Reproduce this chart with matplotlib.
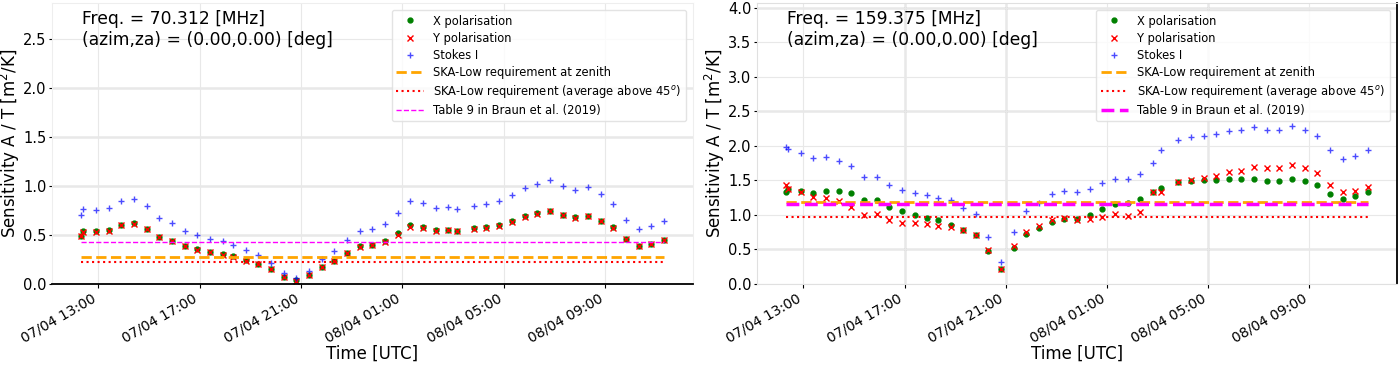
import numpy as np
import pandas as pd
import matplotlib
matplotlib.use('Agg')
import matplotlib.pyplot as plt
import matplotlib.dates as mdates
from matplotlib.ticker import MultipleLocator, FormatStrFormatter

# observation times (UTC), 7-8 April
times = ["07/04 12:19", "07/04 12:24", "07/04 12:54", "07/04 13:24", "07/04 13:54",
         "07/04 14:24", "07/04 14:54", "07/04 15:24", "07/04 15:54", "07/04 16:24",
         "07/04 16:54", "07/04 17:24", "07/04 17:54", "07/04 18:19", "07/04 18:49",
         "07/04 19:19", "07/04 19:49", "07/04 20:19", "07/04 20:49", "07/04 21:19",
         "07/04 21:49", "07/04 22:19", "07/04 22:49", "07/04 23:19", "07/04 23:49",
         "08/04 00:19", "08/04 00:49", "08/04 01:19", "08/04 01:49", "08/04 02:19",
         "08/04 02:49", "08/04 03:09", "08/04 03:49", "08/04 04:19", "08/04 04:49",
         "08/04 05:19", "08/04 05:49", "08/04 06:19", "08/04 06:49", "08/04 07:19",
         "08/04 07:49", "08/04 08:19", "08/04 08:49", "08/04 09:19", "08/04 09:49",
         "08/04 10:19", "08/04 10:49", "08/04 11:19"]

# 70.312 MHz
x_70 = [0.49, 0.54, 0.54, 0.55, 0.60, 0.62, 0.565, 0.48, 0.44, 0.39,
        0.355, 0.33, 0.305, 0.285, 0.245, 0.205, 0.157, 0.075, 0.037, 0.095,
        0.177, 0.238, 0.32, 0.384, 0.40, 0.438, 0.517, 0.602, 0.585, 0.551,
        0.551, 0.544, 0.568, 0.578, 0.599, 0.639, 0.694, 0.721, 0.748, 0.707,
        0.68, 0.697, 0.646, 0.578, 0.463, 0.391, 0.412, 0.449]
y_70 = [0.49, 0.535, 0.535, 0.545, 0.60, 0.615, 0.56, 0.475, 0.44, 0.385,
        0.35, 0.325, 0.30, 0.28, 0.24, 0.20, 0.152, 0.07, 0.035, 0.09,
        0.172, 0.232, 0.315, 0.38, 0.395, 0.425, 0.50, 0.585, 0.568, 0.545,
        0.548, 0.54, 0.562, 0.575, 0.595, 0.632, 0.688, 0.715, 0.742, 0.70,
        0.676, 0.692, 0.642, 0.575, 0.46, 0.385, 0.408, 0.445]
i_70 = [0.70, 0.765, 0.758, 0.776, 0.85, 0.871, 0.796, 0.677, 0.626, 0.544,
        0.497, 0.459, 0.435, 0.395, 0.35, 0.292, 0.214, 0.109, 0.058, 0.136,
        0.252, 0.333, 0.452, 0.541, 0.561, 0.609, 0.721, 0.844, 0.827, 0.776,
        0.782, 0.765, 0.799, 0.816, 0.847, 0.908, 0.976, 1.017, 1.061, 0.997,
        0.956, 0.986, 0.915, 0.816, 0.653, 0.558, 0.588, 0.639]
req_zenith_70 = 0.28
req_avg45_70 = 0.22
braun_70 = 0.43

# 159.375 MHz
x_159 = [1.337, 1.37, 1.346, 1.316, 1.346, 1.346, 1.316, 1.214, 1.214, 1.118,
         1.054, 0.996, 0.962, 0.923, 0.85, 0.777, 0.704, 0.477, 0.219, 0.525,
         0.724, 0.807, 0.899, 0.948, 0.943, 0.996, 1.083, 1.152, 1.176, 1.224,
         1.336, 1.395, 1.477, 1.491, 1.501, 1.506, 1.52, 1.516, 1.526, 1.491,
         1.491, 1.52, 1.491, 1.438, 1.302, 1.234, 1.268, 1.331]
y_159 = [1.433, 1.38, 1.331, 1.263, 1.249, 1.205, 1.118, 1.001, 1.016, 0.933,
         0.879, 0.879, 0.87, 0.845, 0.826, 0.783, 0.71, 0.491, 0.223, 0.544,
         0.758, 0.841, 0.933, 0.952, 0.933, 0.943, 0.977, 1.02, 0.991, 1.04,
         1.33, 1.336, 1.48, 1.506, 1.535, 1.57, 1.618, 1.643, 1.701, 1.681,
         1.686, 1.72, 1.681, 1.608, 1.438, 1.331, 1.346, 1.404]
i_159 = [1.987, 1.949, 1.90, 1.822, 1.837, 1.788, 1.71, 1.545, 1.555, 1.429,
         1.356, 1.316, 1.293, 1.249, 1.21, 1.108, 1.01, 0.681, 0.321, 0.754,
         1.054, 1.18, 1.307, 1.351, 1.331, 1.37, 1.462, 1.526, 1.526, 1.589,
         1.759, 1.934, 2.089, 2.124, 2.147, 2.168, 2.22, 2.235, 2.278, 2.235,
         2.235, 2.293, 2.235, 2.147, 1.939, 1.817, 1.856, 1.934]
req_zenith_159 = 1.19
req_avg45_159 = 0.97
braun_159 = 1.16

t = pd.to_datetime(["2020/" + s for s in times], format="%Y/%d/%m %H:%M")


def panel(ax, freq, xs, ys, si, zen, avg, braun, ymax, lw_braun):
    ax.set_facecolor('white')
    ax.plot(t, xs, 'o', color='green', ms=3.5, ls='none', label='X polarisation')
    ax.plot(t, ys, 'x', color='red', ms=4, mew=1, ls='none', label='Y polarisation')
    ax.plot(t, si, '+', color='blue', ms=5, mew=1, alpha=0.7, ls='none', label='Stokes I')
    ax.hlines(zen, t[0], t[-1], colors='orange', linestyles='--', lw=2,
              label='SKA-Low requirement at zenith')
    ax.hlines(avg, t[0], t[-1], colors='red', linestyles=':', lw=1.5,
              label='SKA-Low requirement (average above 45$^o$)')
    ax.hlines(braun, t[0], t[-1], colors='magenta', linestyles='--', lw=lw_braun,
              label='Table 9 in Braun et al. (2019)')
    ax.set_ylim(0, ymax)
    ax.yaxis.set_major_locator(MultipleLocator(0.5))
    ax.yaxis.set_major_formatter(FormatStrFormatter('%.1f'))
    ax.xaxis.set_major_locator(mdates.HourLocator(byhour=[1, 5, 9, 13, 17, 21]))
    ax.xaxis.set_major_formatter(mdates.DateFormatter('%d/%m %H:%M'))
    for lab in ax.get_xticklabels():
        lab.set_rotation(30)
        lab.set_ha('right')
    ax.tick_params(axis='x', labelsize=10, length=3, pad=2)
    ax.tick_params(axis='y', labelsize=10.5, length=2.5, pad=1.5)
    ax.grid(True, color='#e8e8e8', lw=0.8)
    ax.set_axisbelow(True)
    ax.set_xlabel('Time [UTC]', fontsize=12, labelpad=0)
    ax.set_ylabel('Sensitivity A / T [m$^2$/K]', fontsize=12)
    ax.yaxis.set_label_coords(-0.047, 0.5)
    ax.text(0.047, 0.975, 'Freq. = %s [MHz]\n(azim,za) = (0.00,0.00) [deg]' % freq,
            transform=ax.transAxes, va='top', ha='left', fontsize=12.3)
    ax.legend(loc='upper right', fontsize=8.3, numpoints=1, handlelength=2.4,
              framealpha=0.8, edgecolor='#dddddd', borderaxespad=0.6,
              labelspacing=0.35)


fig = plt.figure(figsize=(14, 3.65), dpi=100)
ax1 = fig.add_axes([0.0371, 0.2219, 0.4579, 0.7699])
ax2 = fig.add_axes([0.5407, 0.2219, 0.4572, 0.7699])

panel(ax1, '70.312', x_70, y_70, i_70, req_zenith_70, req_avg45_70, braun_70, 2.87, 1.0)
panel(ax2, '159.375', x_159, y_159, i_159, req_zenith_159, req_avg45_159, braun_159, 4.07, 2.5)

# left panel: gray horizontal grid, black bottom axis
for v in [0.5, 1.0, 1.5, 2.0]:
    ax1.axhline(v, color='#aaaaaa', lw=1, zorder=0.5)
for s in ['left', 'top', 'right']:
    ax1.spines[s].set_color('#eeeeee')
ax1.spines['bottom'].set_color('black')
ax1.spines['bottom'].set_linewidth(1.3)

# right panel grid pattern
for v in [0.5, 2.5, 4.0]:
    ax2.axhline(v, color='#aaaaaa', lw=1, zorder=0.5)
for h in ['2020-04-07 17:00', '2020-04-07 21:00', '2020-04-08 05:00']:
    ax2.axvline(pd.Timestamp(h), color='#aaaaaa', lw=1, zorder=0.5)
for s in ['left', 'top', 'bottom']:
    ax2.spines[s].set_color('#e0e0e0')
ax2.spines['right'].set_color('black')
ax2.spines['right'].set_linewidth(1.3)

fig.savefig('out.png', dpi=100)
